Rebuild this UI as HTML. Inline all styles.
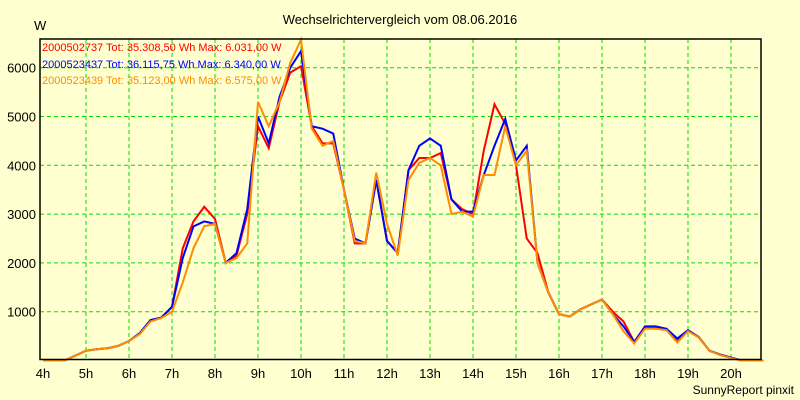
<!DOCTYPE html>
<html><head><meta charset="utf-8"><style>
body{margin:0;background:#ffffd0;}
svg{display:block;font-family:"Liberation Sans",sans-serif;}
</style></head><body>
<svg id="chart" width="800" height="400" xmlns="http://www.w3.org/2000/svg">
<rect x="0" y="0" width="800" height="400" fill="#ffffd0"/>
<text x="400" y="24" font-size="13" text-anchor="middle" fill="#000">Wechselrichtervergleich vom 08.06.2016</text>
<text x="34" y="30" font-size="13" fill="#000">W</text>
<text x="794" y="394" font-size="12" text-anchor="end" fill="#000">SunnyReport pinxit</text>
<g id="grid"></g>
<g font-size="11">
<text x="42" y="51" fill="#ff0000">2000502737 Tot: 35.308,50 Wh Max: 6.031,00 W</text>
<text x="42" y="68" fill="#0000ff">2000523437 Tot: 36.115,75 Wh Max: 6.340,00 W</text>
<text x="42" y="84" fill="#ff8c00">2000523439 Tot: 35.123,00 Wh Max: 6.575,00 W</text>
</g>
<g id="series"></g>
<rect x="40" y="39" width="721" height="320.5" fill="none" stroke="#000" stroke-width="1.5"/>
<g id="labels"></g>
</svg>
<script>
const times=[4,4.25,4.5,4.75,5,5.25,5.5,5.75,6,6.25,6.5,6.75,7,7.25,7.5,7.75,8,8.25,8.5,8.75,9,9.25,9.5,9.75,10,10.25,10.5,10.75,11,11.25,11.5,11.75,12,12.25,12.5,12.75,13,13.25,13.5,13.75,14,14.25,14.5,14.75,15,15.25,15.5,15.75,16,16.25,16.5,16.75,17,17.25,17.5,17.75,18,18.25,18.5,18.75,19,19.25,19.5,19.75,20,20.25,20.5,20.75];
const redValues=[0,0,0,100,200,230,250,300,400,550,820,880,1100,2300,2850,3150,2900,2000,2150,3000,4800,4350,5300,5900,6031,4800,4450,4450,3500,2400,2400,3700,2450,2200,3900,4150,4150,4250,3300,3100,3000,4300,5250,4850,4000,2500,2200,1400,950,900,1050,1150,1250,1000,800,380,680,680,650,400,620,480,200,120,60,0,0,0];
const blueValues=[0,0,0,100,200,230,250,300,400,560,830,880,1100,2100,2750,2850,2800,2000,2200,3100,5000,4450,5400,6000,6340,4800,4750,4650,3500,2500,2400,3700,2450,2200,3900,4400,4550,4400,3300,3050,3050,3800,4400,4950,4100,4400,2000,1400,950,900,1050,1150,1250,950,700,380,700,700,650,450,620,480,200,120,60,0,0,0];
const orangeValues=[0,0,0,100,200,230,250,300,400,540,800,870,1000,1600,2300,2750,2800,2000,2100,2400,5300,4800,5300,6100,6575,4750,4400,4500,3500,2450,2400,3850,2800,2150,3700,4050,4150,4000,3000,3050,2950,3800,3800,4800,4000,4300,2000,1400,950,900,1050,1150,1250,950,600,350,650,650,620,370,600,470,200,110,50,0,0,0];
const yTicks=[1000,2000,3000,4000,5000,6000];
const xTicks=["4h","5h","6h","7h","8h","9h","10h","11h","12h","13h","14h","15h","16h","17h","18h","19h","20h"];
const NS="http://www.w3.org/2000/svg";
const X=h=>43+(h-4)*43;
const Y=v=>360.5-v*0.0488;
const grid=document.getElementById('grid'),labels=document.getElementById('labels'),series=document.getElementById('series');
yTicks.forEach(v=>{
 const l=document.createElementNS(NS,'line');
 
 
 l.setAttribute('x1',40);l.setAttribute('x2',761);l.setAttribute('y1',Y(v));l.setAttribute('y2',Y(v));
 l.setAttribute('stroke','#00e000');l.setAttribute('stroke-dasharray','4,3');
 grid.appendChild(l);
 const t=document.createElementNS(NS,'text');
 
 
 t.setAttribute('x',36);t.setAttribute('y',Y(v)+5);t.setAttribute('text-anchor','end');t.setAttribute('font-size','13');
 t.textContent=v;labels.appendChild(t);
});
xTicks.forEach((s,i)=>{
 const h=4+i,x=X(h);
 if(i>0){
 const l=document.createElementNS(NS,'line');
 
 
 l.setAttribute('x1',x);l.setAttribute('x2',x);l.setAttribute('y1',39);l.setAttribute('y2',360);
 l.setAttribute('stroke','#00e000');l.setAttribute('stroke-dasharray','4,3');
 grid.appendChild(l);}
 const t=document.createElementNS(NS,'text');
 
 
 t.setAttribute('x',x);t.setAttribute('y',378);t.setAttribute('text-anchor','middle');t.setAttribute('font-size','13');
 t.textContent=s;labels.appendChild(t);
});
[[redValues,'#ff0000','series-2000502737'],[blueValues,'#0000ff','series-2000523437'],[orangeValues,'#ff8c00','series-2000523439']].forEach(([vals,c,n])=>{
 const p=document.createElementNS(NS,'polyline');
 
 
 p.setAttribute('points',vals.map((v,i)=>X(times[i])+','+Y(v)).join(' '));
 p.setAttribute('fill','none');p.setAttribute('stroke',c);p.setAttribute('stroke-width','2');
 series.appendChild(p);
});
</script>
</body></html>
